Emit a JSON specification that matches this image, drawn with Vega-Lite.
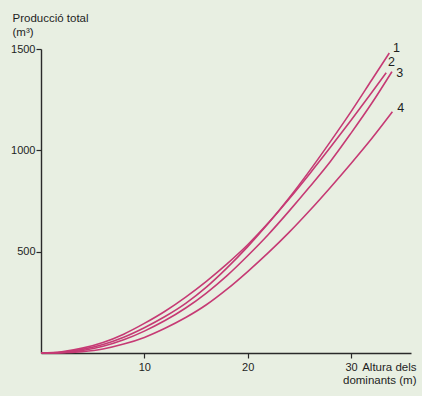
{
  "$schema": "https://vega.github.io/schema/vega-lite/v6.json",
  "width": 370,
  "height": 304,
  "autosize": {"type": "none"},
  "padding": {"left": 41, "top": 49, "right": 11, "bottom": 43},
  "background": "#e8efe2",
  "config": {
    "view": {"stroke": null},
    "font": "Liberation Sans",
    "axis": {"grid": false, "domainColor": "#2a2a2a", "tickColor": "#2a2a2a", "domainWidth": 1.4, "tickWidth": 1.2, "labelColor": "#1e1e1e", "titleColor": "#1e1e1e", "labelFont": "Liberation Sans", "titleFont": "Liberation Sans", "labelFontSize": 11, "titleFontSize": 11.5, "titleFontWeight": "normal"}
  },
  "datasets": {
    "curves": [
      {"curve": "1", "h": 0, "v": 0}, {"curve": "1", "h": 2, "v": 4}, {"curve": "1", "h": 4, "v": 18}, {"curve": "1", "h": 6, "v": 42}, {"curve": "1", "h": 8, "v": 78}, {"curve": "1", "h": 10, "v": 125}, {"curve": "1", "h": 12, "v": 180}, {"curve": "1", "h": 14, "v": 245}, {"curve": "1", "h": 16, "v": 325}, {"curve": "1", "h": 18, "v": 420}, {"curve": "1", "h": 20, "v": 525}, {"curve": "1", "h": 22, "v": 640}, {"curve": "1", "h": 24, "v": 765}, {"curve": "1", "h": 26, "v": 900}, {"curve": "1", "h": 28, "v": 1043}, {"curve": "1", "h": 30, "v": 1191}, {"curve": "1", "h": 32, "v": 1347}, {"curve": "1", "h": 33.7, "v": 1480},
      {"curve": "2", "h": 0, "v": 0}, {"curve": "2", "h": 2, "v": 6}, {"curve": "2", "h": 4, "v": 24}, {"curve": "2", "h": 6, "v": 52}, {"curve": "2", "h": 8, "v": 93}, {"curve": "2", "h": 10, "v": 146}, {"curve": "2", "h": 12, "v": 206}, {"curve": "2", "h": 14, "v": 276}, {"curve": "2", "h": 16, "v": 354}, {"curve": "2", "h": 18, "v": 440}, {"curve": "2", "h": 20, "v": 534}, {"curve": "2", "h": 22, "v": 642}, {"curve": "2", "h": 24, "v": 760}, {"curve": "2", "h": 26, "v": 885}, {"curve": "2", "h": 28, "v": 1015}, {"curve": "2", "h": 30, "v": 1148}, {"curve": "2", "h": 32, "v": 1285}, {"curve": "2", "h": 33.4, "v": 1383},
      {"curve": "3", "h": 0, "v": 0}, {"curve": "3", "h": 2, "v": 2}, {"curve": "3", "h": 4, "v": 12}, {"curve": "3", "h": 6, "v": 33}, {"curve": "3", "h": 8, "v": 65}, {"curve": "3", "h": 10, "v": 108}, {"curve": "3", "h": 12, "v": 160}, {"curve": "3", "h": 14, "v": 222}, {"curve": "3", "h": 16, "v": 296}, {"curve": "3", "h": 18, "v": 382}, {"curve": "3", "h": 20, "v": 480}, {"curve": "3", "h": 22, "v": 585}, {"curve": "3", "h": 24, "v": 700}, {"curve": "3", "h": 26, "v": 820}, {"curve": "3", "h": 28, "v": 945}, {"curve": "3", "h": 30, "v": 1085}, {"curve": "3", "h": 32, "v": 1232}, {"curve": "3", "h": 33.95, "v": 1388},
      {"curve": "4", "h": 0, "v": 0}, {"curve": "4", "h": 2, "v": 1}, {"curve": "4", "h": 4, "v": 7}, {"curve": "4", "h": 6, "v": 20}, {"curve": "4", "h": 8, "v": 44}, {"curve": "4", "h": 10, "v": 77}, {"curve": "4", "h": 12, "v": 122}, {"curve": "4", "h": 14, "v": 175}, {"curve": "4", "h": 16, "v": 238}, {"curve": "4", "h": 18, "v": 315}, {"curve": "4", "h": 20, "v": 402}, {"curve": "4", "h": 22, "v": 495}, {"curve": "4", "h": 24, "v": 595}, {"curve": "4", "h": 26, "v": 703}, {"curve": "4", "h": 28, "v": 817}, {"curve": "4", "h": 30, "v": 935}, {"curve": "4", "h": 32, "v": 1058}, {"curve": "4", "h": 34, "v": 1190}
    ],
    "labels": [
      {"curve": "1", "h": 34.4, "v": 1505},
      {"curve": "2", "h": 33.9, "v": 1436},
      {"curve": "3", "h": 34.7, "v": 1381},
      {"curve": "4", "h": 34.8, "v": 1209}
    ]
  },
  "layer": [
    {
      "data": {"name": "curves"},
      "mark": {"type": "line", "strokeWidth": 1.6, "color": "#c63a74", "interpolate": "monotone"},
      "encoding": {
        "x": {"field": "h", "type": "quantitative", "scale": {"domain": [0, 35.8], "nice": false, "zero": true},
          "axis": {"values": [10, 20, 30], "format": "d", "tickSize": 5, "labelPadding": 3, "labelBaseline": "top",
            "title": ["Altura dels", "dominants (m)"], "titleAlign": "right", "titleAnchor": null, "titleX": 375, "titleY": 8, "titleBaseline": "top", "titleLineHeight": 13}},
        "y": {"field": "v", "type": "quantitative", "scale": {"domain": [0, 1500], "nice": false},
          "axis": {"values": [500, 1000, 1500], "format": "d", "tickSize": 5, "labelPadding": 1,
            "title": ["Producció total", "(m³)"], "titleAngle": 0, "titleAlign": "left", "titleAnchor": null, "titleX": -29, "titleY": -37, "titleBaseline": "top", "titleLineHeight": 14}},
        "detail": {"field": "curve"}
      }
    },
    {
      "data": {"name": "labels"},
      "mark": {"type": "text", "fontSize": 12.5, "font": "Liberation Sans", "fill": "#1e1e1e"},
      "encoding": {
        "x": {"field": "h", "type": "quantitative"},
        "y": {"field": "v", "type": "quantitative"},
        "text": {"field": "curve"}
      }
    }
  ]
}
